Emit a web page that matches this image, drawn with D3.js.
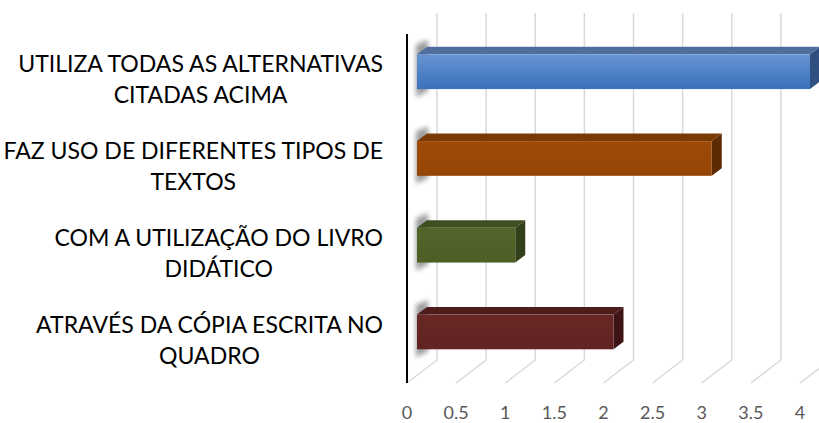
<!DOCTYPE html>
<html>
<head>
<meta charset="utf-8">
<script src="https://cdn.jsdelivr.net/npm/d3@7"></script>
<style>
  body { margin: 0; background: #fff; }
  svg { display: block; }
  .grid { stroke: #d9d9d9; stroke-width: 1.5; fill: none; }
  .tick-label { font-family: Lato, "Noto Sans", sans-serif; font-size: 18px; fill: #595959; }
  .cat-label { font-family: Lato, "Noto Sans", sans-serif; fill: #000; }
</style>
</head>
<body>
<svg id="chart" width="819" height="423"></svg>
<script>
// data (top to bottom as in the picture)
const categories = [
  "UTILIZA TODAS AS ALTERNATIVAS CITADAS ACIMA",
  "FAZ USO DE DIFERENTES TIPOS DE TEXTOS",
  "COM A UTILIZAÇÃO DO LIVRO DIDÁTICO",
  "ATRAVÉS DA CÓPIA ESCRITA NO QUADRO"
];
const labelLines = [
  ["UTILIZA TODAS AS ALTERNATIVAS", "CITADAS ACIMA"],
  ["FAZ USO DE DIFERENTES TIPOS DE", "TEXTOS"],
  ["COM A UTILIZAÇÃO DO LIVRO", "DIDÁTICO"],
  ["ATRAVÉS DA CÓPIA ESCRITA NO", "QUADRO"]
];
const values = [4, 3, 1, 2];
const tickValues = [0, 0.5, 1, 1.5, 2, 2.5, 3, 3.5, 4];
const tickLabels = ["0", "0.5", "1", "1.5", "2", "2.5", "3", "3.5", "4"];

// bar colours: [front top, front bottom, top face, side face]
const barColors = [
  ["#6794d2", "#3a71bb", "#506f9c", "#2f5080"],
  ["#9e4b0a", "#944505", "#7a3a06", "#5c2b04"],
  ["#52652a", "#4d5f26", "#3f4e20", "#33401a"],
  ["#672725", "#612422", "#4d1c1b", "#3e1514"]
];

const svg = d3.select("#chart");

// 3D depth offset (back wall relative to front plane)
const DX = 30, DY = 23;
const front = { top: 36, bottom: 383 };

const x = d3.scaleLinear().domain([0, 4]).range([407, 800]);
const y = d3.scaleBand().domain(categories)
  .range([front.top, front.bottom])
  .paddingInner(0.6).paddingOuter(0.3);

const defs = svg.append("defs");
defs.append("filter").attr("id", "blur")
  .attr("x", "-100%").attr("y", "-50%").attr("width", "300%").attr("height", "200%")
  .append("feGaussianBlur").attr("stdDeviation", 2.5);

barColors.forEach((c, i) => {
  const g = defs.append("linearGradient").attr("id", "grad" + i)
    .attr("x1", 0).attr("y1", 0).attr("x2", 0).attr("y2", 1);
  g.append("stop").attr("offset", "0%").attr("stop-color", c[0]);
  g.append("stop").attr("offset", "100%").attr("stop-color", c[1]);
});

// project a point at value v, front-plane y, depth z (0 front .. 1 back)
const P = (v, yy, z) => [x(v) + z * DX, yy - z * DY];
const poly = pts => pts.map(p => p.join(",")).join(" ");

// gridlines: vertical on back wall, diagonal on floor
const grid = svg.append("g");
tickValues.forEach(v => {
  const bw = P(v, front.bottom, 1);
  const fl = P(v, front.bottom, 0);
  grid.append("polyline").attr("class", "grid")
    .attr("points", poly([[bw[0], 13], bw, fl]));
});

// axis line
svg.append("line")
  .attr("x1", x(0)).attr("x2", x(0))
  .attr("y1", front.top - 2).attr("y2", front.bottom)
  .attr("stroke", "#000").attr("stroke-width", 2);

// bars
const z0 = 1 / 3, z1 = 2 / 3;
const bars = svg.selectAll(".bar").data(categories).enter()
  .append("g").attr("class", "bar");

bars.each(function (d, i) {
  const g = d3.select(this);
  const yt = y(d), yb = y(d) + y.bandwidth();
  const v = values[i];
  const c = barColors[i];

  // soft shadow at the left end
  g.append("polygon")
    .attr("points", poly([
      [x(0) + z0 * DX - 1, yt - z1 * DY - 2],
      [x(0) + z1 * DX + 1, yt - z1 * DY - 7],
      [x(0) + z1 * DX + 1, yb - z0 * DY + 2],
      [x(0) + z0 * DX - 1, yb - z0 * DY + 8]
    ]))
    .attr("fill", "#7a7a7a").attr("opacity", 0.75)
    .attr("filter", "url(#blur)");

  // top face
  g.append("polygon")
    .attr("points", poly([P(0, yt, z0), P(v, yt, z0), P(v, yt, z1), P(0, yt, z1)]))
    .attr("fill", c[2]);
  // side face
  g.append("polygon")
    .attr("points", poly([P(v, yt, z0), P(v, yt, z1), P(v, yb, z1), P(v, yb, z0)]))
    .attr("fill", c[3]);
  // front face
  const f0 = P(0, yt, z0), f1 = P(v, yb, z0);
  g.append("rect")
    .attr("x", f0[0]).attr("y", f0[1])
    .attr("width", f1[0] - f0[0]).attr("height", f1[1] - f0[1])
    .attr("fill", "url(#grad" + i + ")");
});

// tick labels along the front floor edge
svg.append("g").selectAll("text").data(tickValues).enter()
  .append("text").attr("class", "tick-label")
  .attr("x", d => x(d)).attr("y", 419)
  .attr("text-anchor", "middle")
  .text((d, i) => tickLabels[i]);

// category labels: block right-aligned at 383, lines centred in the block
const labelRight = 383;
const labelG = svg.append("g");
let fontSize = 20;
// fit the font so the first long line matches the picture's width
const probe = labelG.append("text").attr("class", "cat-label")
  .style("font-size", fontSize + "px").text(labelLines[0][0]);
fontSize = fontSize * 365 / probe.node().getComputedTextLength();
probe.remove();

categories.forEach((d, i) => {
  const yc = y(d) + y.bandwidth() / 2 + 1;
  const t = labelG.append("text").attr("class", "cat-label")
    .style("font-size", fontSize + "px")
    .attr("text-anchor", "middle");
  const lines = labelLines[i];
  const spans = lines.map(ln => t.append("tspan").text(ln));
  const maxW = d3.max(spans, s => s.node().getComputedTextLength());
  const cx = labelRight - maxW / 2;
  spans.forEach((s, k) => {
    s.attr("x", cx).attr("y", yc - 8 + k * 31);
  });
});
</script>
</body>
</html>
